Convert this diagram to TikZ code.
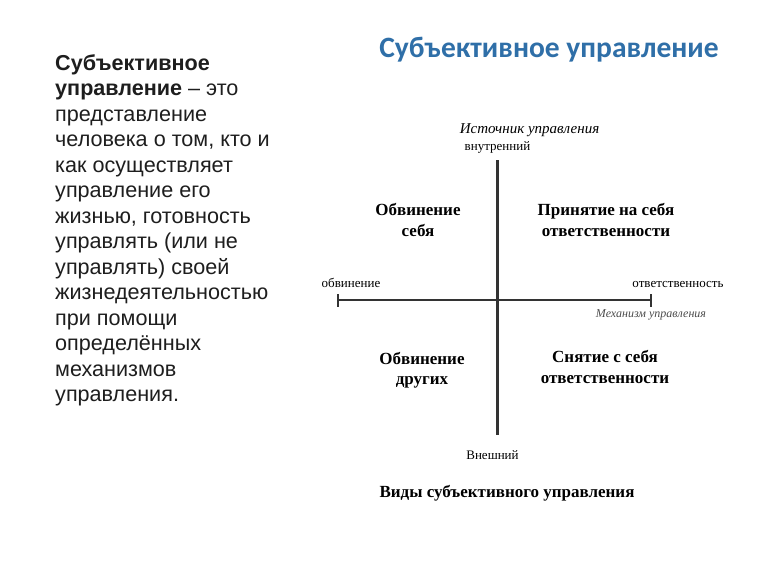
\documentclass[tikz,border=0pt]{standalone}
\usepackage{fontspec}
\setmainfont{Liberation Serif}
\newfontfamily\slidesans{Liberation Sans}
\newfontfamily\titlesans{Carlito}
\usetikzlibrary{positioning}
\definecolor{titleblue}{RGB}{47,111,168}
\definecolor{bodygray}{RGB}{30,30,30}

\begin{document}
\begin{tikzpicture}[x=1pt, y=-1pt,
		axis/.style={line width=2.2pt, black!80},
		quad/.style={font=\fontsize{17}{20.5}\selectfont\bfseries, align=center},
		small/.style={font=\fontsize{13}{15}\selectfont, inner sep=1pt},
		axisname/.style={font=\fontsize{15}{17}\selectfont\itshape, inner sep=1pt}]
	\useasboundingbox[fill=white] (0,0) rectangle (768,576);
	%
	\node [font=\titlesans\fontsize{29.5}{34}\selectfont\bfseries, text=titleblue] (title) at (549,50) {Субъективное управление};
	\node [anchor=north west, inner sep=0pt, align=left, text=bodygray,
		font=\slidesans\fontsize{21.6}{25.5}\selectfont] (def) at (55,54) {%
		\textbf{Субъективное}\\
		\textbf{управление} – это\\
		представление\\
		человека о том, кто и\\
		как осуществляет\\
		управление его\\
		жизнью, готовность\\
		управлять (или не\\
		управлять) своей\\
		жизнедеятельностью\\
		при помощи\\
		определённых\\
		механизмов\\
		управления.};
	%
	\coordinate (top) at (497.5,160);
	\coordinate (bot) at (497.5,435);
	\coordinate (left) at (338,300);
	\coordinate (right) at (651,300);
	\draw [axis] (top) -- (bot);
	\draw [axis] (left) -- (right);
	\draw [axis] ([yshift=-6.5pt]left) -- ([yshift=6.5pt]left);
	\draw [axis] ([yshift=-6.5pt]right) -- ([yshift=6.5pt]right);
	%
	\node [small, above=5pt of top] (inner) {внутренний};
	\node [axisname, above=3pt of inner, xshift=32pt] (source) {Источник управления};
	\node [small, below=14pt of bot, xshift=-5pt] (outer) {Внешний};
	\node [small, above=11pt of left, xshift=13pt] (blame) {обвинение};
	\node [small, above=11pt of right, xshift=27pt] (resp) {ответственность};
	\node [axisname, font=\fontsize{12}{14}\selectfont\itshape, text=black!70, below=8pt of right] (mech) {Механизм управления};
	%
	\node [quad] (q1) at (418,220) {Обвинение\\себя};
	\node [quad] (q2) at (606,220) {Принятие на себя\\ответственности};
	\node [quad] (q3) at (422,370) {Обвинение\\других};
	\node [quad] (q4) at (605,367) {Снятие с себя\\ответственности};
	\node [quad] (kinds) at (507,493) {Виды субъективного управления};
\end{tikzpicture}
\end{document}
